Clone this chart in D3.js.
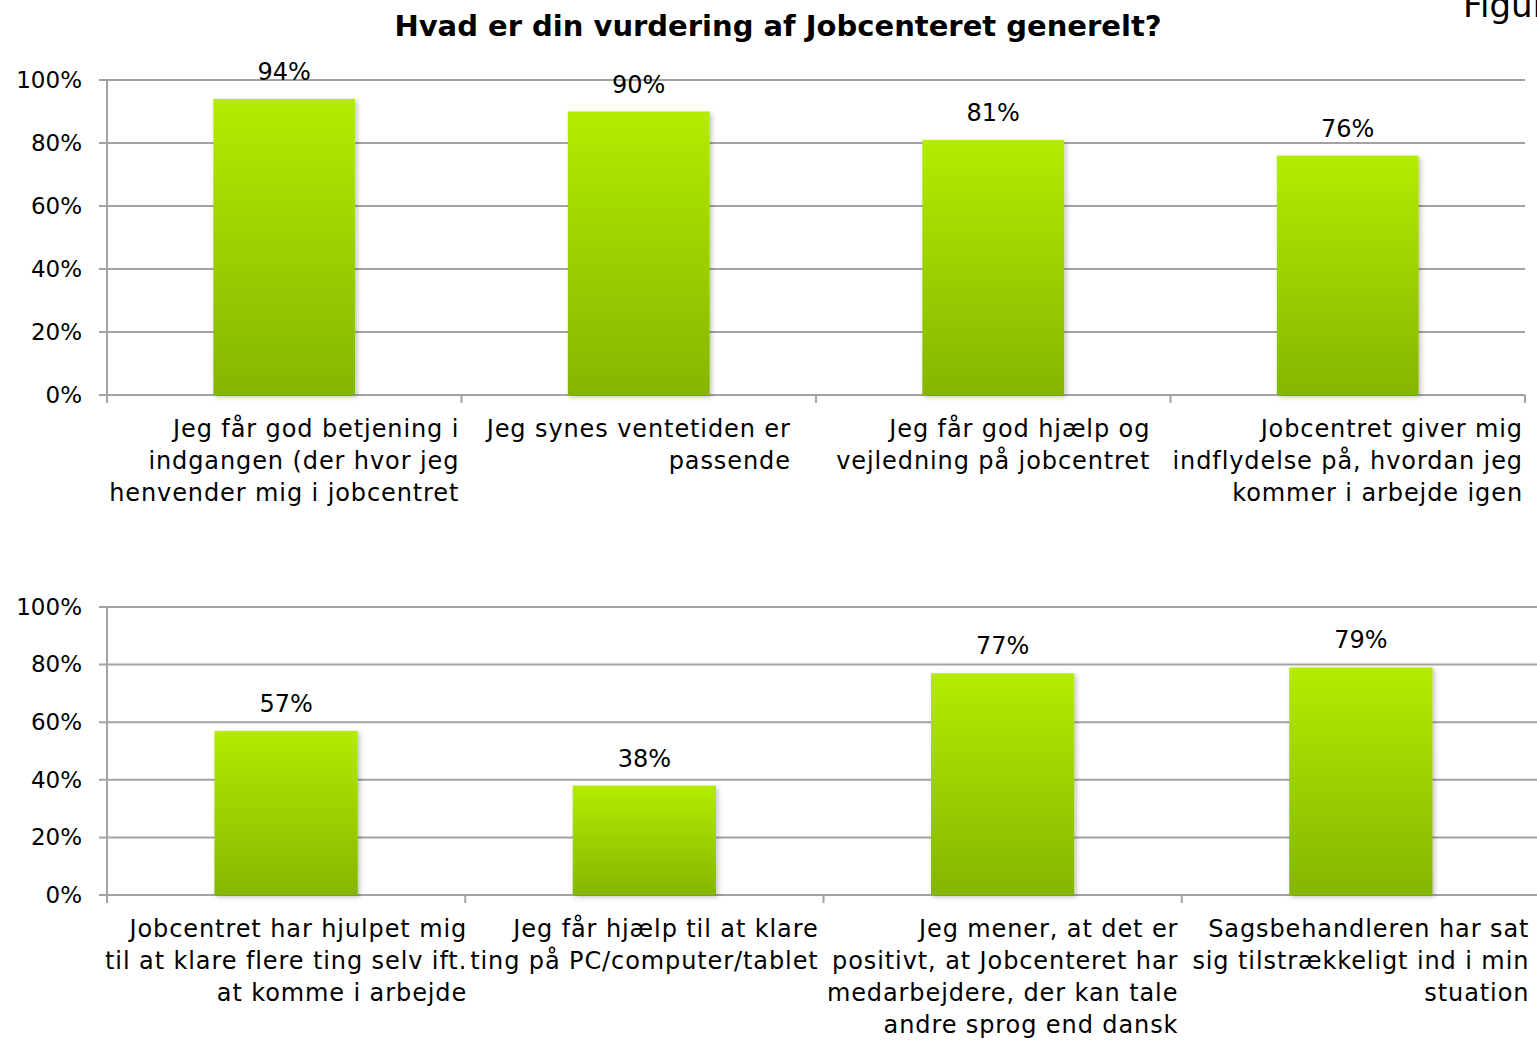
<!DOCTYPE html>
<html>
<head>
<meta charset="utf-8">
<script src="https://cdn.jsdelivr.net/npm/d3@7"></script>
<style>
  body { margin: 0; background: #fff; }
  svg { display: block; font-family: "DejaVu Sans", sans-serif; }
  .grid line { stroke: #a3a3a3; stroke-width: 2; }
  .tick text { fill: #000; }
</style>
</head>
<body>
<script>
// values in percent
var topLabels = [
  ["Jeg får god betjening i", "indgangen (der hvor jeg", "henvender mig i jobcentret"],
  ["Jeg synes ventetiden er", "passende"],
  ["Jeg får god hjælp og", "vejledning på jobcentret"],
  ["Jobcentret giver mig", "indflydelse på, hvordan jeg", "kommer i arbejde igen"]
];
var topValues = [94, 90, 81, 76];

var bottomLabels = [
  ["Jobcentret har hjulpet mig", "til at klare flere ting selv ift.", "at komme i arbejde"],
  ["Jeg får hjælp til at klare", "ting på PC/computer/tablet"],
  ["Jeg mener, at det er", "positivt, at Jobcenteret har", "medarbejdere, der kan tale", "andre sprog end dansk"],
  ["Sagsbehandleren har sat", "sig tilstrækkeligt ind i min", "stuation"]
];
var bottomValues = [57, 38, 77, 79];

var yTicks = [0, 20, 40, 60, 80, 100];

var width = 1537, height = 1040;
var fontSize = 23;

var svg = d3.select("body").append("svg")
    .attr("width", width)
    .attr("height", height);

var defs = svg.append("defs");
var grad = defs.append("linearGradient")
    .attr("id", "barGrad")
    .attr("x1", 0).attr("y1", 0).attr("x2", 0).attr("y2", 1);
grad.append("stop").attr("offset", "0%").attr("stop-color", "#b3ec00");
grad.append("stop").attr("offset", "100%").attr("stop-color", "#85b600");

var shadow = defs.append("filter")
    .attr("id", "shadow")
    .attr("x", "-10%").attr("y", "-10%")
    .attr("width", "130%").attr("height", "130%");
shadow.append("feDropShadow")
    .attr("dx", 2).attr("dy", 2)
    .attr("stdDeviation", 2.5)
    .attr("flood-color", "#000")
    .attr("flood-opacity", 0.25);

// title
svg.append("text")
    .attr("x", 778)
    .attr("y", 36)
    .attr("text-anchor", "middle")
    .style("font-weight", "bold")
    .style("font-size", "29px")
    .text("Hvad er din vurdering af Jobcenteret generelt?");

// figure caption, runs off the right edge like in the original
svg.append("text")
    .attr("x", 1463)
    .attr("y", 17)
    .style("font-size", "34px")
    .text("Figur");

function drawPanel(labels, values, x0, x1, yBase, yTop) {
  var g = svg.append("g");

  var x = d3.scaleBand()
      .domain(d3.range(values.length))
      .range([x0, x1])
      .paddingInner(0.6)
      .paddingOuter(0.3);

  var y = d3.scaleLinear()
      .domain([0, 100])
      .range([yBase, yTop]);

  // horizontal gridlines
  g.append("g")
      .attr("class", "grid")
    .selectAll("line")
    .data(yTicks)
    .enter().append("line")
      .attr("x1", x0 - 8)
      .attr("x2", x1)
      .attr("y1", d => y(d))
      .attr("y2", d => y(d));

  // y axis line
  g.append("g").attr("class", "grid")
    .append("line")
      .attr("x1", x0).attr("x2", x0)
      .attr("y1", y(100)).attr("y2", y(0));

  // category boundary ticks
  var bounds = d3.range(values.length + 1).map(i => x0 + i * x.step());
  g.append("g")
      .attr("class", "grid")
    .selectAll("line")
    .data(bounds)
    .enter().append("line")
      .attr("x1", d => d).attr("x2", d => d)
      .attr("y1", y(0)).attr("y2", y(0) + 8);

  // y tick labels
  var yAxis = d3.axisLeft(y)
      .tickValues(yTicks)
      .tickSize(0)
      .tickPadding(25)
      .tickFormat(d => d + "%");
  g.append("g")
      .attr("transform", "translate(" + x0 + ",0)")
      .call(yAxis)
      .call(a => a.select(".domain").remove())
      .selectAll("text")
      .style("font-size", fontSize + "px")
      .style("font-family", "DejaVu Sans, sans-serif");

  // bars
  g.append("g")
    .selectAll("rect")
    .data(values)
    .enter().append("rect")
      .attr("x", (d, i) => x(i))
      .attr("y", d => y(d))
      .attr("width", x.bandwidth())
      .attr("height", d => y(0) - y(d))
      .attr("fill", "url(#barGrad)")
      .attr("filter", "url(#shadow)");

  // value labels
  g.append("g")
    .selectAll("text")
    .data(values)
    .enter().append("text")
      .attr("x", (d, i) => x(i) + x.bandwidth() / 2)
      .attr("y", d => y(d) - 19)
      .attr("text-anchor", "middle")
      .style("font-size", "24px")
      .text(d => d + "%");

  // category labels: block centred on the bar, lines right aligned
  labels.forEach(function(lines, i) {
    var cx = x(i) + x.bandwidth() / 2;
    var t = g.append("text")
        .style("font-size", "24px")
        .style("letter-spacing", "0.9px")
        .attr("text-anchor", "end");
    var spans = t.selectAll("tspan")
      .data(lines)
      .enter().append("tspan")
        .attr("y", (d, k) => y(0) + 42 + k * 32)
        .text(d => d);
    var w = d3.max(spans.nodes(), n => n.getComputedTextLength());
    spans.attr("x", cx + w / 2);
  });
}

drawPanel(topLabels, topValues, 107, 1525, 395, 80);
drawPanel(bottomLabels, bottomValues, 107, 1540, 895, 607);
</script>
</body>
</html>
